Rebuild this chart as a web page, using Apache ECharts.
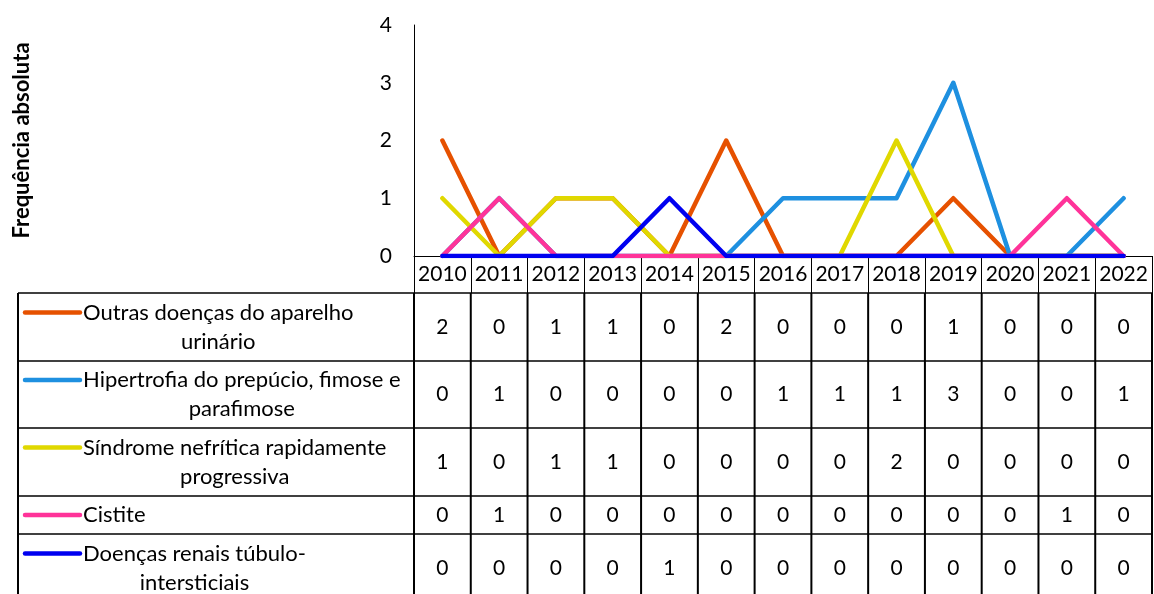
<!DOCTYPE html>
<html><head><meta charset="utf-8">
<script src="https://cdn.jsdelivr.net/npm/echarts@6/dist/echarts.min.js"></script>
<style>html,body{margin:0;padding:0;background:#fff}#c{width:1154px;height:594px}</style>
</head><body><div id="c"></div>
<script>
const years = ['2010','2011','2012','2013','2014','2015','2016','2017','2018','2019','2020','2021','2022'];
const seriesNames = ['Outras doenças do aparelho\nurinário','Hipertrofia do prepúcio, fimose e\nparafimose','Síndrome nefrítica rapidamente\nprogressiva','Cistite','Doenças renais túbulo-\nintersticiais'];
const outras    = [2,0,1,1,0,2,0,0,0,1,0,0,0];
const hipertrof = [0,1,0,0,0,0,1,1,1,3,0,0,1];
const sindrome  = [1,0,1,1,0,0,0,0,2,0,0,0,0];
const cistite   = [0,1,0,0,0,0,0,0,0,0,0,1,0];
const tubulo    = [0,0,0,0,1,0,0,0,0,0,0,0,0];
const yTicks = [0,1,2,3,4];
const yTitle = 'Frequência absoluta';

const colors = ['#E65100','#1E90E0','#E0D800','#FF3399','#0000F0'];
const allData = [outras, hipertrof, sindrome, cistite, tubulo];
const FONT = 'Lato';
const FS_NUM = 21;
const FS_TXT = 22;

const chart = echarts.init(document.getElementById('c'), null, {renderer:'canvas'});
const option = {
  animation:false,
  grid:{left:414, right:2, top:25, bottom:338, containLabel:false},
  xAxis:{type:'category', data:years, boundaryGap:true,
    axisLine:{show:true, lineStyle:{color:'#000', width:1}},
    axisTick:{show:true, length:37, interval:0, lineStyle:{color:'#000', width:1}},
    axisLabel:{interval:0, margin:8, color:'#000', fontFamily:FONT, fontSize:FS_NUM},
    splitLine:{show:false}},
  yAxis:{type:'value', min:yTicks[0], max:yTicks[yTicks.length-1], interval:1,
    name:yTitle, nameLocation:'middle', nameRotate:90, nameGap:381,
    nameTextStyle:{color:'#000', fontFamily:FONT, fontSize:22, fontWeight:'bold'},
    axisLine:{show:true, lineStyle:{color:'#000', width:1}},
    axisTick:{show:false}, splitLine:{show:false},
    axisLabel:{margin:22, color:'#000', fontFamily:FONT, fontSize:FS_NUM}},
  series: allData.map((d,i)=>({type:'line', name:seriesNames[i], data:d, symbol:'none',
    lineStyle:{color:colors[i], width:4.5, cap:'round', join:'round'}, z:2+i}))
};
chart.setOption(option);

// data table
const ctx = document.createElement('canvas').getContext('2d');
ctx.font = FS_TXT + 'px ' + FONT;
const rowEdges = [293, 361, 428, 496, 534, 602];
const tableLeft = 18, keyX0 = 25, keyX1 = 80, textX = 83, lineH = 29;
const colCenters = years.map((y,i)=>chart.convertToPixel({xAxisIndex:0}, i));
const half = (colCenters[1]-colCenters[0])/2;
const colEdges = [colCenters[0]-half].concat(colCenters.map(c=>c+half));
const right = colEdges[colEdges.length-1];
const g = [];
rowEdges.forEach(y=>g.push({type:'line', shape:{x1:tableLeft,y1:y,x2:right,y2:y}, style:{stroke:'#000', lineWidth:1.5}, silent:true}));
[tableLeft].concat(colEdges).forEach(x=>g.push({type:'line', shape:{x1:x,y1:rowEdges[0],x2:x,y2:rowEdges[rowEdges.length-1]}, style:{stroke:'#000', lineWidth:2}, silent:true}));
seriesNames.forEach((nm,r)=>{
  const lines = nm.split('\n');
  const cy = (rowEdges[r]+rowEdges[r+1])/2;
  const firstY = cy - (lines.length-1)*lineH/2;
  const w = Math.max(...lines.map(l=>ctx.measureText(l).width));
  g.push({type:'line', shape:{x1:keyX0,y1:firstY,x2:keyX1,y2:firstY}, style:{stroke:colors[r], lineWidth:4.5, lineCap:'round'}, silent:true});
  g.push({type:'text', x:textX + w/2, y:cy, style:{text:nm, fill:'#000', font:FS_TXT+'px '+FONT, align:'center', verticalAlign:'middle', lineHeight:lineH}, silent:true});
  allData[r].forEach((v,i)=>{
    g.push({type:'text', x:colCenters[i], y:cy, style:{text:String(v), fill:'#000', font:FS_NUM+'px '+FONT, align:'center', verticalAlign:'middle'}, silent:true});
  });
});
chart.setOption({graphic:{elements:g}});
</script></body></html>
